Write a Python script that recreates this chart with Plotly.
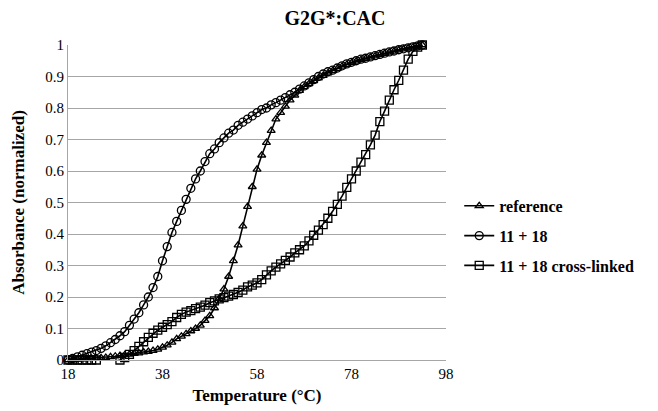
import plotly.graph_objects as go

temperature = list(range(18, 94))

reference = [0.0, 0.0, 0.002, 0.003, 0.004, 0.005, 0.006, 0.007, 0.008, 0.01,
             0.012, 0.014, 0.016, 0.018, 0.02, 0.022, 0.025, 0.027, 0.03, 0.034,
             0.04, 0.047, 0.056, 0.067, 0.075, 0.083, 0.092, 0.1, 0.11, 0.125,
             0.14, 0.165, 0.195, 0.225, 0.265, 0.315, 0.365, 0.425, 0.487, 0.55,
             0.605, 0.65, 0.69, 0.728, 0.765, 0.785, 0.805, 0.825, 0.84, 0.855,
             0.867, 0.877, 0.886, 0.895, 0.903, 0.911, 0.918, 0.925, 0.932, 0.938,
             0.943, 0.948, 0.953, 0.957, 0.961, 0.965, 0.969, 0.973, 0.977, 0.98,
             0.984, 0.987, 0.99, 0.993, 0.996, 1.0]

mix_11_18 = [0.0, 0.005, 0.01, 0.015, 0.02, 0.025, 0.03, 0.037, 0.045, 0.055,
             0.065, 0.077, 0.09, 0.11, 0.13, 0.15, 0.175, 0.2, 0.23, 0.265,
             0.315, 0.36, 0.405, 0.44, 0.475, 0.51, 0.545, 0.575, 0.6, 0.63,
             0.655, 0.67, 0.69, 0.705, 0.72, 0.73, 0.745, 0.755, 0.765, 0.775,
             0.785, 0.795, 0.8, 0.81, 0.817, 0.825, 0.833, 0.842, 0.85, 0.86,
             0.87, 0.88, 0.89, 0.9, 0.908, 0.915, 0.92, 0.927, 0.934, 0.94,
             0.945, 0.95, 0.955, 0.958, 0.962, 0.966, 0.97, 0.974, 0.978, 0.981,
             0.985, 0.988, 0.991, 0.994, 0.997, 1.0]

cross_linked = [0.0, 0.0, 0.0, 0.0, 0.0, 0.0, 0.0, -0.002, -0.003, -0.004,
                -0.004, 0.0, 0.008, 0.018, 0.03, 0.043, 0.058, 0.072, 0.085, 0.095,
                0.104, 0.112, 0.122, 0.135, 0.145, 0.152, 0.157, 0.163, 0.168, 0.174,
                0.182, 0.188, 0.194, 0.198, 0.203, 0.208, 0.215, 0.222, 0.232, 0.238,
                0.245, 0.255, 0.27, 0.283, 0.295, 0.305, 0.316, 0.327, 0.34, 0.35,
                0.362, 0.378, 0.396, 0.412, 0.43, 0.45, 0.472, 0.494, 0.52, 0.548,
                0.575, 0.6, 0.628, 0.652, 0.683, 0.714, 0.757, 0.79, 0.825, 0.858,
                0.888, 0.92, 0.955, 0.98, 0.993, 1.0]

x_ticks = [18, 38, 58, 78, 98]

serif = "'Times New Roman', 'Liberation Serif', 'DejaVu Serif', serif"

fig = go.Figure()
series = [
    ("reference", reference, "triangle-up-open", 7),
    ("11 + 18", mix_11_18, "circle-open", 8),
    ("11 + 18 cross-linked", cross_linked, "square-open", 8),
]
for i, (name, vals, sym, size) in enumerate(series):
    fig.add_trace(go.Scatter(
        x=temperature, y=vals, name="<b>" + name + "</b>", mode="lines+markers",
        legendgroup="g%d" % i,
        line=dict(color="black", width=1.6),
        marker=dict(symbol=sym, size=size, color="black",
                    line=dict(color="black", width=1.3)),
        cliponaxis=False,
    ))

# page body adds an 8px offset, so the figure is 8px smaller on each side
fig.update_layout(
    width=650, height=403,
    paper_bgcolor="white", plot_bgcolor="white",
    margin=dict(l=60, r=212, t=37, b=51),
    font=dict(family=serif, color="black", size=14),
    title=dict(text="<b>G2G*:CAC</b>", x=0.503, xanchor="center",
               y=0.975, yanchor="middle",
               font=dict(family=serif, size=20, color="black")),
    showlegend=True,
    legend=dict(x=1.035, xanchor="left", y=0.394, yanchor="middle",
                font=dict(family=serif, size=16, color="black"),
                traceorder="grouped", tracegroupgap=6, itemwidth=30,
                bgcolor="rgba(0,0,0,0)"),
    xaxis=dict(range=[18, 98], tickvals=x_ticks, ticktext=[str(v) for v in x_ticks],
               showgrid=False, zeroline=False, showline=True, automargin=False,
               linecolor="#a6a6a6", linewidth=1, ticks="",
               tickfont=dict(family=serif, size=15, color="black"),
               title=dict(text="<b>Temperature (°C)</b>", standoff=8,
                          font=dict(family=serif, size=17, color="black"))),
    yaxis=dict(range=[0, 1], dtick=0.1, tick0=0, automargin=False,
               showgrid=True, gridcolor="#a6a6a6", gridwidth=1,
               zeroline=False, showline=True, linecolor="#a6a6a6", linewidth=1,
               ticks="", tickfont=dict(family=serif, size=15, color="black"),
               title=dict(text="<b>Absorbance (normalized)</b>", standoff=16,
                          font=dict(family=serif, size=17, color="black"))),
)

fig.write_html("out.html")
